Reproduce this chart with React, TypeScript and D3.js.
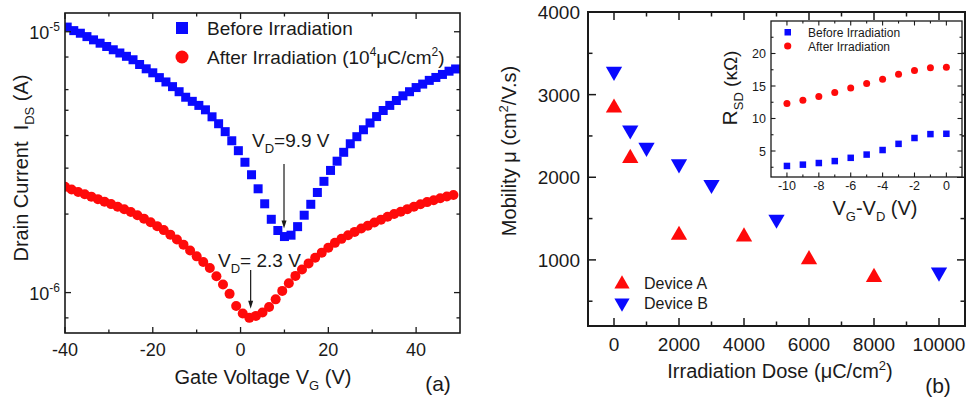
import React from 'react';
import * as d3 from 'd3';

// ---------- Panel (a): drain current vs gate voltage ----------
const beforeVg = [
  -39.5, -38, -36.5, -35, -33.5, -32, -30.5, -29, -27.5, -26,
  -24.5, -23, -21.5, -20, -18.5, -17, -15.5, -14, -12.5, -11,
  -9.5, -8, -6.5, -5, -3.5, -2, -0.5, 1, 2.5, 4,
  5.5, 7, 8.5, 10, 11.5, 13, 14.5, 16, 17.5, 19,
  20.5, 22, 23.5, 25, 26.5, 28, 29.5, 31, 32.5, 34,
  35.5, 37, 38.5, 40, 41.5, 43, 44.5, 46, 47.5, 49,
];
// values in units of 1e-6 A
const beforeIds = [
  10.42, 10.10, 9.87, 9.58, 9.31, 9.04, 8.78, 8.53, 8.29, 8.05,
  7.81, 7.49, 7.21, 6.96, 6.67, 6.42, 6.16, 5.89, 5.61, 5.41,
  5.22, 5.02, 4.72, 4.44, 4.14, 3.82, 3.50, 3.16, 2.83, 2.50,
  2.19, 1.91, 1.73, 1.64, 1.66, 1.79, 1.98, 2.18, 2.42, 2.67,
  2.94, 3.19, 3.45, 3.72, 3.96, 4.21, 4.47, 4.73, 4.99, 5.22,
  5.45, 5.68, 5.89, 6.11, 6.30, 6.51, 6.68, 6.86, 7.06, 7.20,
];
const afterVg = [
  -40, -38.5, -37, -35.5, -34, -32.5, -31, -29.5, -28, -26.5,
  -25, -23.5, -22, -20.5, -19, -17.5, -16, -14.5, -13, -11.5,
  -10, -8.5, -7, -5.5, -4, -2.5, -1, 0.5, 2, 3.5,
  5, 6.5, 8, 9.5, 11, 12.5, 14, 15.5, 17, 18.5,
  20, 21.5, 23, 24.5, 26, 27.5, 29, 30.5, 32, 33.5,
  35, 36.5, 38, 39.5, 41, 42.5, 44, 45.5, 47, 48.5,
];
const afterIds = [
  2.543, 2.486, 2.432, 2.383, 2.333, 2.282, 2.232, 2.184, 2.132, 2.086,
  2.037, 1.978, 1.921, 1.862, 1.798, 1.736, 1.668, 1.597, 1.527, 1.451,
  1.377, 1.311, 1.243, 1.156, 1.074, 0.989, 0.889, 0.832, 0.800, 0.814,
  0.839, 0.881, 0.942, 1.015, 1.086, 1.159, 1.227, 1.294, 1.361, 1.423,
  1.487, 1.551, 1.607, 1.660, 1.709, 1.762, 1.806, 1.856, 1.904, 1.952,
  2.002, 2.043, 2.089, 2.132, 2.182, 2.223, 2.260, 2.300, 2.335, 2.366,
];
const aXMajor = [-40, -20, 0, 20, 40];
const aXMinor = [-30, -10, 10, 30];
const aYMajor = [1e-6, 1e-5];
const aYMajorLabels = ['-6', '-5'];
const aYMinor = [8e-7, 2e-6, 3e-6, 4e-6, 5e-6, 6e-6, 8e-6];
const diracBefore = 9.9;
const diracAfter = 2.3;

// ---------- Panel (b): mobility vs dose ----------
const doseA = [0, 500, 2000, 4000, 6000, 8000];
const mobilityA = [2840, 2230, 1300, 1280, 1005, 790];
const doseB = [0, 500, 1000, 2000, 3000, 5000, 10000];
const mobilityB = [3280, 2570, 2360, 2160, 1910, 1490, 850];
const bXMajor = [0, 2000, 4000, 6000, 8000, 10000];
const bXMinor = [1000, 3000, 5000, 7000, 9000];
const bYMajor = [1000, 2000, 3000, 4000];
const bYMinor = [500, 1500, 2500, 3500];

// ---------- Inset: R_SD vs VG-VD ----------
const insetV = [-10, -9, -8, -7, -6, -5, -4, -3, -2, -1, 0];
const rBefore = [2.7, 2.9, 3.15, 3.45, 3.95, 4.45, 5.15, 6.1, 7.0, 7.6, 7.65];
const rAfter = [12.3, 12.8, 13.4, 14.0, 14.7, 15.4, 16.05, 16.8, 17.4, 17.8, 17.9];
const iXMajor = [-10, -8, -6, -4, -2, 0];
const iXMinor = [-9, -7, -5, -3, -1];
const iYMajor = [5, 10, 15, 20];
const iYMinor = [2.5, 7.5, 12.5, 17.5, 22.5];

const FONT = "'Liberation Sans', Arial, Helvetica, sans-serif";
const INK = '#1a1a1a';
const BLUE = '#0a0aff';
const RED = '#ff0a0a';

type Box = { x0: number; x1: number; y0: number; y1: number };

function Frame({ b, sw }: { b: Box; sw: number }) {
  return (
    <rect x={b.x0} y={b.y0} width={b.x1 - b.x0} height={b.y1 - b.y0}
      fill="none" stroke={INK} strokeWidth={sw} />
  );
}

function XTicks({ b, xs, len, sw }: { b: Box; xs: number[]; len: number; sw: number }) {
  return (
    <g stroke={INK} strokeWidth={sw}>
      {xs.map((x, i) => (
        <g key={i}>
          <line x1={x} x2={x} y1={b.y1} y2={b.y1 - len} />
          <line x1={x} x2={x} y1={b.y0} y2={b.y0 + len} />
        </g>
      ))}
    </g>
  );
}

function YTicks({ b, ys, len, sw }: { b: Box; ys: number[]; len: number; sw: number }) {
  return (
    <g stroke={INK} strokeWidth={sw}>
      {ys.map((y, i) => (
        <g key={i}>
          <line x1={b.x0} x2={b.x0 + len} y1={y} y2={y} />
          <line x1={b.x1} x2={b.x1 - len} y1={y} y2={y} />
        </g>
      ))}
    </g>
  );
}

function Arrow({ x, y1, y2 }: { x: number; y1: number; y2: number }) {
  return (
    <g>
      <line x1={x} x2={x} y1={y1} y2={y2 - 6} stroke={INK} strokeWidth={1.2} />
      <path d={`M${x - 2.5},${y2 - 8} L${x + 2.5},${y2 - 8} L${x},${y2} Z`} fill={INK} />
    </g>
  );
}

export default function App() {
  // panel (a)
  const A: Box = { x0: 65, x1: 460, y0: 13, y1: 333 };
  const xA = d3.scaleLinear().domain([-40, 50]).range([A.x0, A.x1]);
  const yA = d3.scaleLog().domain([7.0e-7, 1.18e-5]).range([A.y1, A.y0]);
  const before = beforeVg.map((v, i) => ({ x: v, y: beforeIds[i] * 1e-6 }));
  const after = afterVg.map((v, i) => ({ x: v, y: afterIds[i] * 1e-6 }));

  // panel (b)
  const B: Box = { x0: 588, x1: 965, y0: 12, y1: 326 };
  const xB = d3.scaleLinear().domain([-800, 10800]).range([B.x0, B.x1]);
  const yB = d3.scaleLinear().domain([200, 4000]).range([B.y1, B.y0]);
  const tri = d3.symbol().type(d3.symbolTriangle).size(115)();
  const triSmall = d3.symbol().type(d3.symbolTriangle).size(100)();

  // inset
  const I: Box = { x0: 771, x1: 962, y0: 21, y1: 177 };
  const xI = d3.scaleLinear().domain([-11, 0.98]).range([I.x0, I.x1]);
  const yI = d3.scaleLinear().domain([1, 25]).range([I.y1, I.y0]);

  const sq = 9;
  const isq = 6.5;

  const minBefore = d3.min(beforeIds)! * 1e-6;
  const minAfter = d3.min(afterIds)! * 1e-6;

  return (
    <svg width={970} height={405} style={{ position: 'absolute', left: 0, top: 0, background: '#fff' }}
      fontFamily={FONT} fill={INK}>
      <rect x={0} y={0} width={970} height={405} fill="#fff" />

      {/* ================= Panel (a) ================= */}
      <g>
        {after.map((d, i) => (
          <circle key={'a' + i} cx={xA(d.x)} cy={yA(d.y)} r={5} fill={RED} />
        ))}
        {before.map((d, i) => (
          <rect key={'b' + i} x={xA(d.x) - sq / 2} y={yA(d.y) - sq / 2} width={sq} height={sq} fill={BLUE} />
        ))}
        {/* mask data outside the frame */}
        <rect x={A.x0 - 8} y={A.y0} width={8} height={A.y1 - A.y0} fill="#fff" />
        <rect x={A.x1} y={A.y0} width={8} height={A.y1 - A.y0} fill="#fff" />

        <XTicks b={A} xs={aXMajor.map(xA)} len={6} sw={1.3} />
        <XTicks b={A} xs={aXMinor.map(xA)} len={3.5} sw={1.3} />
        <YTicks b={A} ys={aYMajor.map(yA)} len={6} sw={1.3} />
        <YTicks b={A} ys={aYMinor.map(yA)} len={3.5} sw={1.3} />
        <Frame b={A} sw={1.6} />

        {aXMajor.map((v, i) => (
          <text key={i} x={xA(v)} y={356} fontSize={18} textAnchor="middle">{v}</text>
        ))}
        {aYMajor.map((v, i) => (
          <text key={i} x={60} y={yA(v) + 7} fontSize={18} textAnchor="end">
            <tspan>10</tspan>
            <tspan dy={-8} fontSize={12}>{aYMajorLabels[i]}</tspan>
          </text>
        ))}

        <text x={263} y={384} fontSize={20} textAnchor="middle">
          <tspan>Gate Voltage V</tspan>
          <tspan dy={6} fontSize={13}>G</tspan>
          <tspan dy={-6}> (V)</tspan>
        </text>
        <text transform="translate(28,168) rotate(-90)" fontSize={20} textAnchor="middle" xmlSpace="preserve">
          <tspan>Drain Current  I</tspan>
          <tspan dy={6} fontSize={13}>DS</tspan>
          <tspan dy={-6}> (A)</tspan>
        </text>
        <text x={438} y={391} fontSize={21} textAnchor="middle">(a)</text>

        {/* legend */}
        <rect x={176} y={22} width={12} height={12} fill={BLUE} />
        <text x={207} y={35} fontSize={19}>Before Irradiation</text>
        <circle cx={182} cy={57} r={6.5} fill={RED} />
        <text x={207} y={64} fontSize={19}>
          <tspan>After Irradiation (10</tspan>
          <tspan dy={-8} fontSize={12}>4</tspan>
          <tspan dy={8}>μC/cm</tspan>
          <tspan dy={-8} fontSize={12}>2</tspan>
          <tspan dy={8}>)</tspan>
        </text>

        {/* annotations */}
        <text x={252} y={147} fontSize={19}>
          <tspan>V</tspan>
          <tspan dy={6} fontSize={13}>D</tspan>
          <tspan dy={-6}>=9.9 V</tspan>
        </text>
        <Arrow x={xA(diracBefore)} y1={164} y2={yA(minBefore) - 8} />
        <text x={218} y={267} fontSize={19}>
          <tspan>V</tspan>
          <tspan dy={6} fontSize={13}>D</tspan>
          <tspan dy={-6}>= 2.3 V</tspan>
        </text>
        <Arrow x={xA(diracAfter)} y1={270} y2={yA(minAfter) - 9} />
      </g>

      {/* ================= Panel (b) ================= */}
      <g>
        {doseA.map((d, i) => (
          <path key={'A' + i} d={tri} transform={`translate(${xB(d)},${yB(mobilityA[i])})`} fill={RED} />
        ))}
        {doseB.map((d, i) => (
          <path key={'B' + i} d={tri} transform={`translate(${xB(d)},${yB(mobilityB[i])}) rotate(180)`} fill={BLUE} />
        ))}

        <XTicks b={B} xs={bXMajor.map(xB)} len={8} sw={1.5} />
        <XTicks b={B} xs={bXMinor.map(xB)} len={4.5} sw={1.5} />
        <YTicks b={B} ys={bYMajor.map(yB)} len={8} sw={1.5} />
        <YTicks b={B} ys={bYMinor.map(yB)} len={4.5} sw={1.5} />
        <Frame b={B} sw={2} />

        {bXMajor.map((v, i) => (
          <text key={i} x={xB(v)} y={351} fontSize={19} textAnchor="middle">{v}</text>
        ))}
        {bYMajor.map((v, i) => (
          <text key={i} x={580} y={yB(v) + 7} fontSize={19} textAnchor="end">{v}</text>
        ))}

        <text x={780} y={378} fontSize={20} textAnchor="middle">
          <tspan>Irradiation Dose (μC/cm</tspan>
          <tspan dy={-8} fontSize={13}>2</tspan>
          <tspan dy={8}>)</tspan>
        </text>
        <text transform="translate(516,151) rotate(-90)" fontSize={20} textAnchor="middle">
          <tspan>Mobility μ (cm</tspan>
          <tspan dy={-8} fontSize={13}>2</tspan>
          <tspan dy={8}>/V.s)</tspan>
        </text>
        <text x={938} y={393} fontSize={21} textAnchor="middle">(b)</text>

        {/* legend */}
        <path d={triSmall} transform="translate(622,284)" fill={RED} />
        <text x={644} y={289} fontSize={16}>Device A</text>
        <path d={triSmall} transform="translate(622,303) rotate(180)" fill={BLUE} />
        <text x={644} y={309} fontSize={16}>Device B</text>
      </g>

      {/* ================= Inset ================= */}
      <g>
        <rect x={I.x0} y={I.y0} width={I.x1 - I.x0} height={I.y1 - I.y0} fill="#fff" />
        {insetV.map((v, i) => (
          <circle key={'ra' + i} cx={xI(v)} cy={yI(rAfter[i])} r={3.5} fill={RED} />
        ))}
        {insetV.map((v, i) => (
          <rect key={'rb' + i} x={xI(v) - isq / 2} y={yI(rBefore[i]) - isq / 2} width={isq} height={isq} fill={BLUE} />
        ))}
        <XTicks b={I} xs={iXMajor.map(xI)} len={4.5} sw={1.1} />
        <XTicks b={I} xs={iXMinor.map(xI)} len={2.5} sw={1.1} />
        <YTicks b={I} ys={iYMajor.map(yI)} len={4.5} sw={1.1} />
        <YTicks b={I} ys={iYMinor.map(yI)} len={2.5} sw={1.1} />
        <Frame b={I} sw={1.3} />

        {iXMajor.map((v, i) => (
          <text key={i} x={xI(v)} y={190} fontSize={12.5} textAnchor="middle">{v}</text>
        ))}
        {iYMajor.map((v, i) => (
          <text key={i} x={766} y={yI(v) + 4.5} fontSize={12.5} textAnchor="end">{v}</text>
        ))}

        <text x={875} y={215} fontSize={20} textAnchor="middle">
          <tspan>V</tspan>
          <tspan dy={6} fontSize={13}>G</tspan>
          <tspan dy={-6}>-V</tspan>
          <tspan dy={6} fontSize={13}>D</tspan>
          <tspan dy={-6}> (V)</tspan>
        </text>
        <text transform="translate(737,88) rotate(-90)" fontSize={21} textAnchor="middle">
          <tspan>R</tspan>
          <tspan dy={6} fontSize={13}>SD</tspan>
          <tspan dy={-6} fontSize={19}> (κΩ)</tspan>
        </text>

        {/* inset legend */}
        <rect x={784.5} y={29} width={isq} height={isq} fill={BLUE} />
        <text x={808} y={36.5} fontSize={12}>Before Irradiation</text>
        <circle cx={787.7} cy={46} r={3.6} fill={RED} />
        <text x={808} y={50.5} fontSize={12}>After Irradiation</text>
      </g>
    </svg>
  );
}
